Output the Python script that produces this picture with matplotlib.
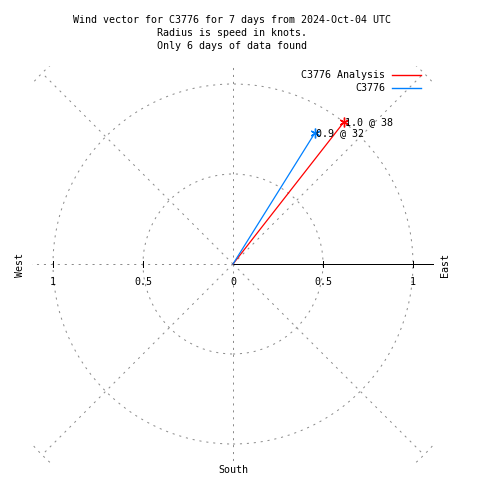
import numpy as np
import matplotlib
matplotlib.use("Agg")
import matplotlib.pyplot as plt
from matplotlib.patches import Rectangle, Circle

# wind vectors: speed (knots) and direction (deg clockwise from north)
series = ["C3776 Analysis", "C3776"]
speeds = [1.0, 0.86]
directions = [38, 32]
point_labels = ["1.0 @ 38", "0.9 @ 32"]
colors = ["#ff0000", "#0080ff"]

title_lines = ["Wind vector for C3776 for 7 days from 2024-Oct-04 UTC",
               "Radius is speed in knots.",
               "Only 6 days of data found"]
grid_radii = [0.5, 1.0, 1.5]
grid_angles = [0, 45, 90, 135, 180, 225, 270, 315]
tick_vals = [-1, -0.5, 0, 0.5, 1]
tick_text = ["1", "0.5", "0", "0.5", "1"]

plt.rcParams["font.family"] = ["DejaVu Sans Mono"]
plt.rcParams["lines.scale_dashes"] = False
FS = 7.2
GREY = "#8c8c8c"
LW = 0.72  # one pixel at 100 dpi

fig = plt.figure(figsize=(4.8, 4.8), dpi=100)
ax = fig.add_axes([0, 0, 1, 1])
# pixel -> data: x=(px-233)/180, y=(264-py)/180
ax.set_xlim(-233 / 180, 247 / 180)
ax.set_ylim(-216 / 180, 264 / 180)
ax.set_aspect("equal")
ax.axis("off")

def px(x, y):
    return (x - 233) / 180, (264 - y) / 180

clip = Rectangle((-1.115, -1.115), 2.225, 2.215, transform=ax.transData,
                 fill=False, visible=False)
ax.add_patch(clip)

# polar grid
dash = (0, (1.5, 3.5))
for r in grid_radii:
    c = Circle((0, 0), r, fill=False, ec=GREY, lw=LW, ls=dash)
    ax.add_patch(c)
    c.set_clip_path(clip)
for a in grid_angles:
    t = np.radians(a)
    ln, = ax.plot([0, 1.5 * np.sin(t)], [0, 1.5 * np.cos(t)], color=GREY, lw=LW,
                  ls=dash)
    ln.set_clip_path(clip)

# r axis
ax.plot([0, 1.11], [0, 0], color="black", lw=LW, antialiased=False)
for v, s in zip(tick_vals, tick_text):
    if v != 0:
        ax.plot([v, v], [-3 / 180, 3 / 180], color="black", lw=LW, antialiased=False)
    ax.text(v, -18 / 180, s, ha="center", va="center", fontsize=FS)

# vectors
for spd, d, lab, col in zip(speeds, directions, point_labels, colors):
    t = np.radians(d)
    x, y = spd * np.sin(t), spd * np.cos(t)
    ax.plot([0, x], [0, y], color=col, lw=0.9)
    ax.plot([x], [y], marker=(6, 2, 0), color=col, ms=7, mew=1.0, ls="none")
    ax.text(x + 1 / 180, y, lab, ha="left", va="center", fontsize=FS)

# legend
for i, (name, col) in enumerate(zip(series, colors)):
    yy = 75 + 13 * i
    ax.text(*px(385, yy), name, ha="right", va="center", fontsize=FS)
    x0, y0 = px(392, yy)
    x1, _ = px(421, yy)
    ax.plot([x0, x1], [y0, y0], color=col, lw=1.0, zorder=5)

# compass labels
ax.text(*px(20, 265), "West", rotation=90, ha="center", va="center", fontsize=FS)
ax.text(*px(445, 265), "East", rotation=90, ha="center", va="center", fontsize=FS)
ax.text(*px(233, 470), "South", ha="center", va="center", fontsize=FS)

for i, line in enumerate(title_lines):
    ax.text(*px(232, 20 + 13 * i), line, ha="center", va="center", fontsize=FS)

fig.savefig("out.png", dpi=100)
